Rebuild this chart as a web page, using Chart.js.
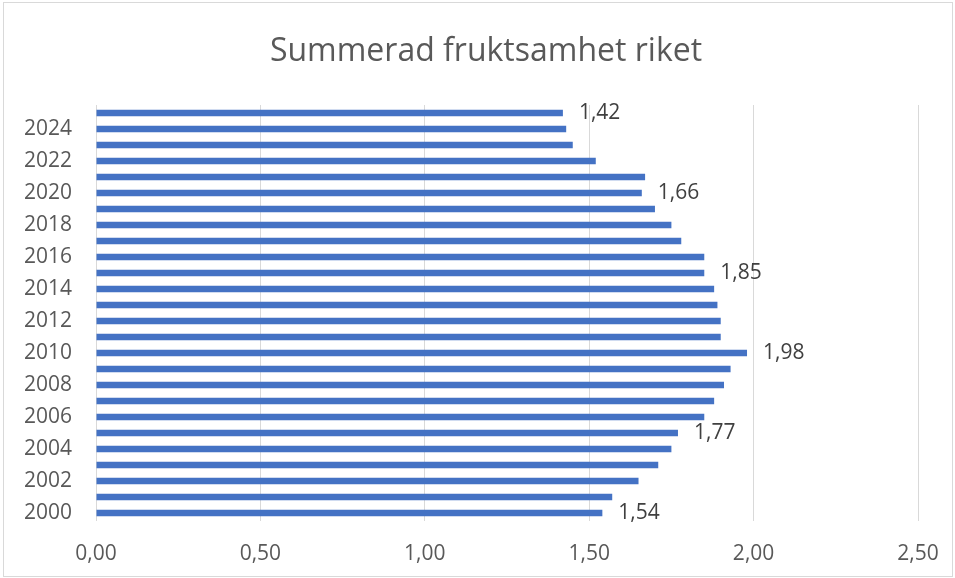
<!DOCTYPE html>
<html>
<head>
<meta charset="utf-8">
<script src="https://cdn.jsdelivr.net/npm/chart.js@4"></script>
<style>
  body { margin: 0; background: #fff; }
  #ram { position: absolute; left: 3px; top: 2px; width: 948px; height: 573px; border: 1px solid #d9d9d9; }
</style>
</head>
<body>
<div id="ram"><canvas id="graf" width="948" height="573"></canvas></div>
<script>
// data
const ar = [2000, 2001, 2002, 2003, 2004, 2005, 2006, 2007, 2008, 2009, 2010, 2011, 2012,
            2013, 2014, 2015, 2016, 2017, 2018, 2019, 2020, 2021, 2022, 2023, 2024, 2025];
const fruktsamhet = [1.54, 1.57, 1.65, 1.71, 1.75, 1.77, 1.85, 1.88, 1.91, 1.93, 1.98, 1.90, 1.90,
                     1.89, 1.88, 1.85, 1.85, 1.78, 1.75, 1.70, 1.66, 1.67, 1.52, 1.45, 1.43, 1.42];
const etikettAr = [2000, 2005, 2010, 2015, 2020, 2025];
const xTicks = [0, 0.5, 1, 1.5, 2, 2.5];
const rubrik = "Summerad fruktsamhet riket";

const fmt = v => v.toFixed(2).replace(".", ",");

// ==== RUBRIK + ETIKETTER ====
const etiketter = {
  id: "etiketter",
  afterDatasetsDraw(chart) {
    const ctx = chart.ctx;
    const meta = chart.getDatasetMeta(0);
    ctx.save();
    ctx.font = "21px 'Open Sans'";
    ctx.fillStyle = "#404040";
    ctx.textAlign = "left";
    ctx.textBaseline = "middle";
    meta.data.forEach((bar, i) => {
      if (!etikettAr.includes(ar[i])) return;
      ctx.fillText(fmt(fruktsamhet[i]), bar.x + 16, bar.y);
    });

    // rubriken ligger lite till höger om mitten, som i Excel
    ctx.font = "32px 'Open Sans'";
    ctx.fillStyle = "#595959";
    ctx.textAlign = "center";
    ctx.fillText(rubrik, 482, 49);
    ctx.restore();
  }
};

new Chart(document.getElementById("graf"), {
  type: "bar",
  data: {
    labels: ar,
    datasets: [{
      data: fruktsamhet,
      backgroundColor: "#4472C4",
      barPercentage: 0.4,
      categoryPercentage: 1.0
    }]
  },
  options: {
    indexAxis: "y",
    responsive: false,
    animation: false,
    layout: { padding: { left: 0, right: 34, top: 102, bottom: 0 } },
    plugins: {
      legend: { display: false },
      tooltip: { enabled: false },
      title: { display: false }
    },
    scales: {
      x: {
        min: 0,
        max: 2.5,
        afterBuildTicks: s => { s.ticks = xTicks.map(v => ({ value: v })); },
        afterFit: s => { s.height = 55; },
        // osynliga tickstreck ger avståndet ner till etiketterna
        grid: { color: "#d9d9d9", drawTicks: true, tickLength: 20, tickColor: "rgba(0,0,0,0)" },
        border: { display: false },
        ticks: {
          color: "#595959",
          font: { family: "'Open Sans'", size: 21 },
          padding: 0,
          callback: v => fmt(v)
        }
      },
      y: {
        reverse: true,
        afterFit: s => { s.width = 92; },
        grid: { display: false, drawTicks: false },
        border: { display: false },
        ticks: {
          color: "#595959",
          font: { family: "'Open Sans'", size: 21 },
          padding: 24,
          autoSkip: false,
          callback: function (v, i) {
            const a = ar[i];
            return a % 2 === 0 ? String(a) : "";
          }
        }
      }
    }
  },
  plugins: [etiketter]
});
</script>
</body>
</html>
